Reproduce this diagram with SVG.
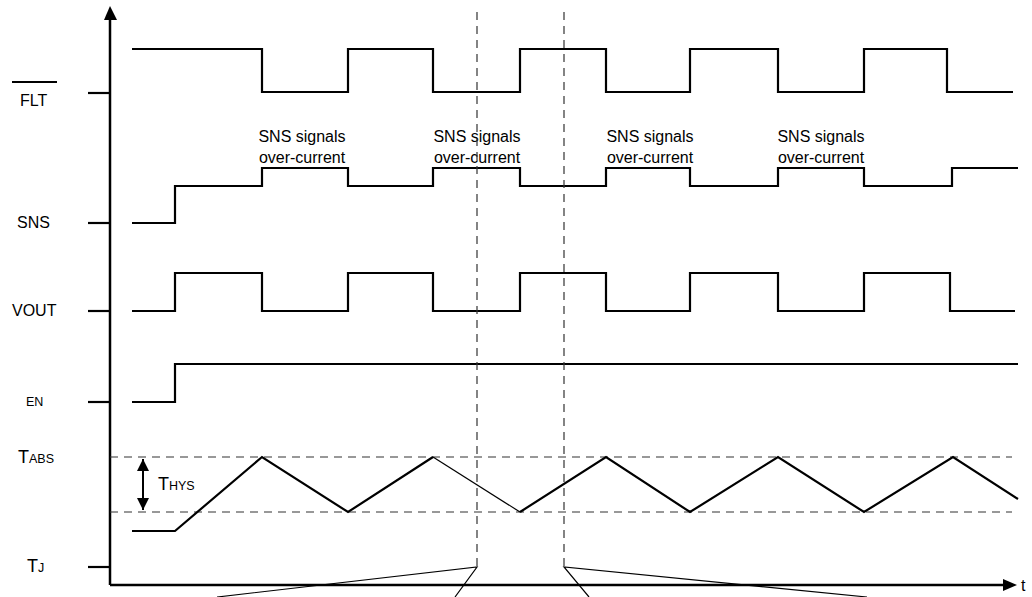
<svg xmlns="http://www.w3.org/2000/svg" width="1032" height="597" viewBox="0 0 1032 597">
<defs>
<style>
text{font-family:"Liberation Sans",Arial,sans-serif;fill:#000}
.lbl{font-size:16px}
.big{font-size:18px}
.sub{font-size:12.5px}
.wave{fill:none;stroke:#000;stroke-width:2.2;stroke-linejoin:miter}
.thin{fill:none;stroke:#000;stroke-width:1.2}
.dash{fill:none;stroke:#333;stroke-width:1.2;stroke-dasharray:8,6}
.axis{fill:none;stroke:#000;stroke-width:2.5}
.tick{stroke:#000;stroke-width:2.2}
</style>
<marker id="ah2" viewBox="0 0 10 10" refX="10" refY="5" markerWidth="12" markerHeight="12" orient="auto-start-reverse" markerUnits="userSpaceOnUse">
<path d="M0,0 L10,5 L0,10 z" fill="#000"/>
</marker>
</defs>

<g id="axes">
<line class="axis" x1="110" y1="585" x2="110" y2="18"/>
<polygon points="110,6 104,20 117,20" fill="#000"/>
<line class="axis" x1="110" y1="585" x2="1003" y2="585"/>
<polygon points="1017,585 1003,579 1003,591" fill="#000"/>
<text class="lbl" x="1021" y="591">t</text>
</g>

<g id="labels">
<line x1="12" y1="82" x2="57" y2="82" stroke="#000" stroke-width="2"/>
<text class="lbl" x="20" y="106">FLT</text>
<line class="tick" x1="88" y1="93" x2="110" y2="93"/>
<text class="lbl" x="17" y="228">SNS</text>
<line class="tick" x1="88" y1="223" x2="110" y2="223"/>
<text class="lbl" x="12" y="316">VOUT</text>
<line class="tick" x1="88" y1="311" x2="110" y2="311"/>
<text x="26" y="406" style="font-size:12.5px">EN</text>
<line class="tick" x1="88" y1="402" x2="110" y2="402"/>
<text x="18" y="463" class="big">T<tspan class="sub">ABS</tspan></text>
<text x="27" y="572" class="big">T<tspan class="sub">J</tspan></text>
<line class="tick" x1="88" y1="567" x2="110" y2="567"/>
</g>

<g id="FLT">
<polyline class="wave" points="132,49 262,49 262,92 348,92 348,49 433,49 433,92 520,92 520,49 606,49 606,92 690,92 690,49 778,49 778,92 864,92 864,49 947,49 947,92 1013,92"/>
</g>

<g id="SNS">
<polyline class="wave" points="132,223 175,223 175,186 262,186 262,168 348,168 348,186 433,186 433,168 520,168 520,186 606,186 606,168 690,168 690,186 778,186 778,168 864,168 864,186 952,186 952,168 1018,168"/>
</g>

<g id="VOUT">
<polyline class="wave" points="132,311 175,311 175,273 262,273 262,311 348,311 348,273 433,273 433,311 520,311 520,273 606,273 606,311 690,311 690,273 778,273 778,311 864,311 864,273 950,273 950,311 1015,311"/>
</g>

<g id="EN">
<polyline class="wave" points="132,402 175,402 175,364 1018,364"/>
</g>

<g id="TJ">
<polyline class="dash" points="110,457 1012,457"/>
<polyline class="dash" points="110,512 1012,512"/>
<polyline class="wave" points="132,531 175,531 262,457 348,512 433,457"/>
<polyline class="thin" points="433,457 520,512"/>
<polyline class="wave" points="520,512 606,457 690,512 778,457 864,512 953,457 1018,499"/>
<line x1="143" y1="459" x2="143" y2="510" stroke="#000" stroke-width="2" marker-start="url(#ah2)" marker-end="url(#ah2)"/>
<text x="158" y="490" class="big">T<tspan class="sub">HYS</tspan></text>
</g>

<g id="annotations">
<text class="lbl" x="302" y="142" text-anchor="middle">SNS signals</text>
<text class="lbl" x="302" y="163" text-anchor="middle">over-current</text>
<text class="lbl" x="477" y="142" text-anchor="middle">SNS signals</text>
<text class="lbl" x="477" y="163" text-anchor="middle">over-current</text>
<text class="lbl" x="650" y="142" text-anchor="middle">SNS signals</text>
<text class="lbl" x="650" y="163" text-anchor="middle">over-current</text>
<text class="lbl" x="821" y="142" text-anchor="middle">SNS signals</text>
<text class="lbl" x="821" y="163" text-anchor="middle">over-current</text>
</g>

<g id="connectors">
<line class="dash" x1="477" y1="12" x2="477" y2="567"/>
<line class="dash" x1="564" y1="12" x2="564" y2="567" stroke="#555"/>
<polyline class="thin" points="217,597 477,567 455,597"/>
<polyline class="thin" points="589,597 564,567 867,597"/>
</g>
</svg>
